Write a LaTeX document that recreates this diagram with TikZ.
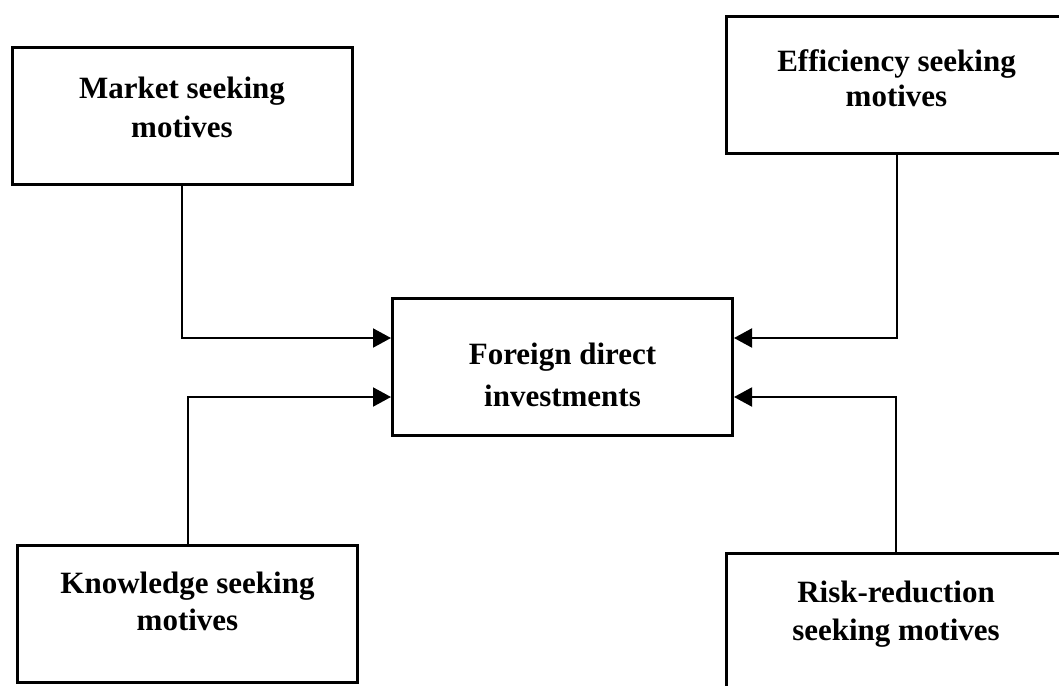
\documentclass[tikz,border=0pt]{standalone}
\usepackage{fontspec}
\setmainfont{Liberation Serif}
\usetikzlibrary{arrows.meta}

% two centred lines, first baseline #1 below the top, line distance #2
\newcommand{\boxlines}[4]{\parbox[c][137pt][t]{330pt}{\centering\fontsize{31}{#2}\selectfont\bfseries\rule{0pt}{#1}#3\\#4}}

\begin{document}
\begin{tikzpicture}[x=1pt,y=-1pt,
  motive/.style={draw,line width=3pt,minimum width=340pt,minimum height=137pt,inner sep=0pt},
  feed/.style={line width=2pt,-{Triangle[length=18pt,width=19pt]}}]
\useasboundingbox (0,0) rectangle (1059,685);

\node[motive] (market) at (182,116) {\boxlines{50.5pt}{39pt}{Market seeking}{motives}};
\node[motive] (efficiency) at (896.5,85) {\boxlines{54.5pt}{35pt}{Efficiency seeking}{motives}};
\node[motive] (fdi) at (562.5,367) {\boxlines{65.5pt}{42pt}{Foreign direct}{investments}};
\node[motive] (knowledge) at (187.5,614) {\boxlines{47.5pt}{37pt}{Knowledge seeking}{motives}};
\node[motive] (risk) at (896,622) {\boxlines{48.5pt}{38pt}{Risk-reduction}{seeking motives}};

\draw[feed] (market.south) |- ([yshift=29pt]fdi.west);
\draw[feed] (knowledge.north) |- ([yshift=-30pt]fdi.west);
\draw[feed] (efficiency.south) |- ([yshift=29pt]fdi.east);
\draw[feed] (risk.north) |- ([yshift=-30pt]fdi.east);

\end{tikzpicture}
\end{document}
